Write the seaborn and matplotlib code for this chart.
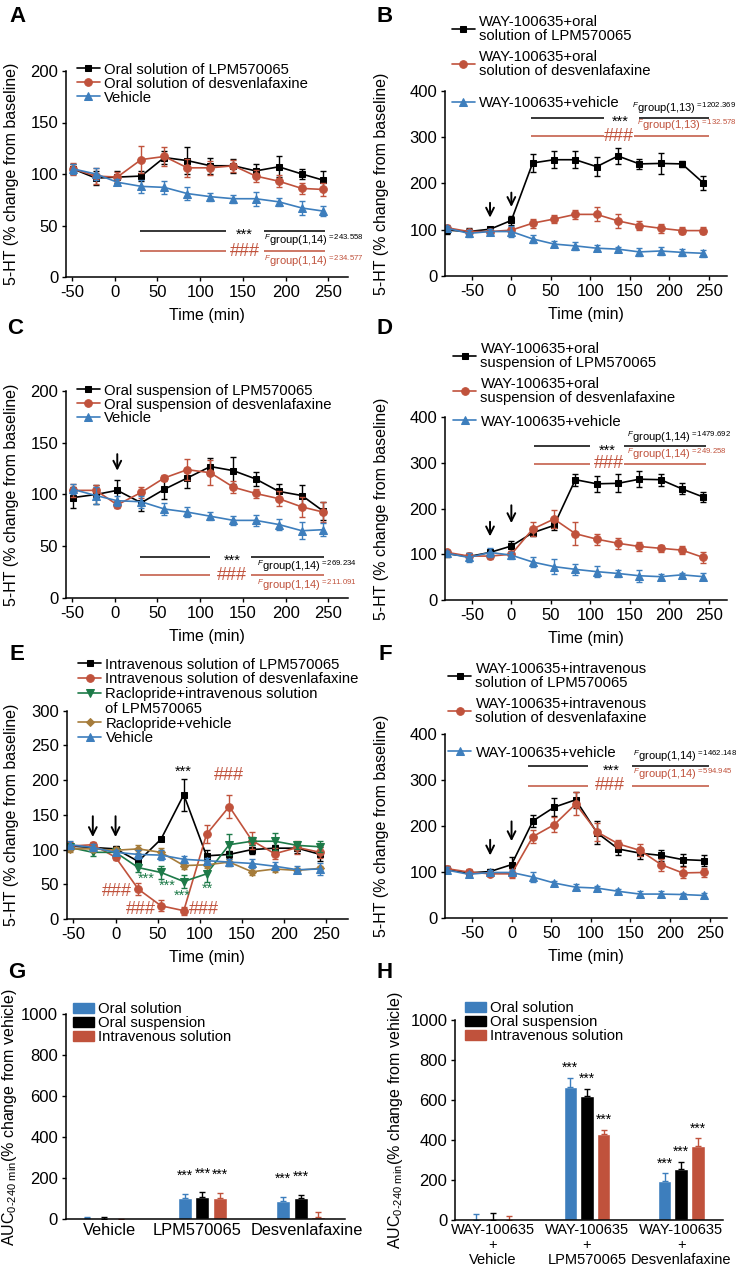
import numpy as np
import pandas as pd
import matplotlib
matplotlib.use("Agg")
import matplotlib.pyplot as plt
import seaborn as sns
from matplotlib.patches import Patch
from matplotlib.legend import Legend

# ---- data ----
a_t = [-49, -22, 3, 31, 58, 85, 112, 139, 165, 192, 219, 244]
a_lpm = [105, 96, 97, 98, 116, 113, 108, 108, 103, 107, 100, 94]
a_lpm_err = [5, 7, 6, 5, 6, 13, 8, 7, 7, 10, 5, 9]
a_des = [105, 98, 97, 114, 117, 106, 106, 108, 98, 93, 86, 85]
a_des_err = [6, 8, 5, 13, 9, 9, 7, 6, 6, 6, 5, 6]
a_veh = [105, 100, 92, 88, 87, 81, 78, 76, 76, 73, 67, 64]
a_veh_err = [5, 6, 3, 6, 6, 6, 4, 4, 7, 4, 7, 5]

b_t = [-81, -54, -27, 0, 27, 54, 81, 108, 135, 162, 189, 216, 243]
b_lpm = [99, 96, 101, 120, 244, 251, 251, 236, 259, 242, 243, 242, 201]
b_lpm_err = [8, 8, 5, 10, 20, 18, 18, 20, 17, 10, 23, 6, 15]
b_des = [104, 96, 96, 99, 114, 123, 133, 133, 119, 109, 103, 98, 98]
b_des_err = [6, 6, 5, 6, 10, 8, 9, 15, 15, 10, 10, 8, 7]
b_veh = [103, 92, 96, 96, 80, 69, 65, 60, 58, 52, 54, 51, 49]
b_veh_err = [6, 7, 6, 12, 8, 6, 8, 7, 5, 8, 8, 7, 8]

c_t = a_t
c_lpm = [97, 100, 104, 92, 105, 116, 127, 123, 115, 103, 99, 84]
c_lpm_err = [10, 9, 10, 8, 9, 10, 8, 13, 7, 7, 10, 9]
c_des = [104, 104, 90, 102, 116, 124, 121, 107, 101, 96, 88, 83]
c_des_err = [6, 5, 3, 5, 3, 10, 12, 6, 4, 7, 10, 10]
c_veh = [105, 99, 94, 93, 86, 83, 79, 75, 75, 71, 65, 66]
c_veh_err = [5, 8, 5, 6, 6, 5, 4, 4, 5, 5, 8, 6]

d_t = b_t
d_lpm = [101, 95, 104, 118, 147, 163, 263, 254, 255, 264, 263, 243, 225]
d_lpm_err = [6, 8, 6, 12, 8, 10, 13, 18, 20, 18, 13, 12, 10]
d_des = [104, 96, 96, 100, 155, 177, 145, 133, 124, 117, 113, 109, 93]
d_des_err = [6, 6, 6, 8, 15, 20, 25, 12, 12, 10, 8, 8, 12]
d_veh = [102, 93, 104, 98, 83, 73, 67, 62, 58, 53, 51, 55, 51]
d_veh_err = [6, 10, 10, 8, 10, 17, 12, 12, 8, 13, 5, 5, 7]

e_t = [-54, -27, 0, 27, 54, 81, 108, 135, 162, 189, 216, 243]
e_lpm = [105, 103, 101, 83, 115, 179, 91, 93, 100, 102, 102, 93]
e_lpm_err = [5, 4, 4, 5, 3, 23, 8, 5, 7, 5, 7, 10]
e_des = [105, 107, 89, 43, 19, 12, 122, 162, 113, 94, 103, 96]
e_des_err = [6, 4, 4, 9, 8, 6, 13, 16, 12, 8, 10, 8]
e_rac_lpm = [103, 96, 96, 74, 67, 54, 65, 107, 112, 112, 106, 104]
e_rac_lpm_err = [4, 5, 4, 6, 9, 9, 12, 15, 6, 12, 5, 8]
e_rac_veh = [101, 101, 99, 101, 96, 77, 78, 82, 68, 72, 70, 73]
e_rac_veh_err = [4, 4, 5, 6, 6, 5, 5, 5, 5, 4, 4, 4]
e_veh = [107, 103, 96, 93, 92, 86, 84, 82, 80, 76, 71, 72]
e_veh_err = [6, 5, 4, 6, 7, 5, 4, 5, 6, 6, 5, 8]

f_t = b_t
f_lpm = [105, 98, 101, 116, 211, 241, 257, 185, 150, 141, 136, 127, 125]
f_lpm_err = [8, 7, 5, 17, 14, 20, 18, 25, 12, 12, 12, 13, 13]
f_des = [107, 100, 96, 96, 177, 203, 248, 187, 161, 147, 116, 98, 99]
f_des_err = [6, 6, 5, 10, 15, 17, 25, 20, 8, 13, 13, 12, 10]
f_veh = [104, 95, 99, 99, 89, 76, 67, 65, 58, 52, 52, 51, 49]
f_veh_err = [6, 5, 5, 5, 10, 5, 7, 4, 4, 7, 7, 4, 6]

formulations = ['Oral solution', 'Oral suspension', 'Intravenous solution']
g_groups = ['Vehicle', 'LPM570065', 'Desvenlafaxine']
g_vals = [[4, 102, 91], [3, 110, 102], [-3, 102, 12]]
g_errs = [[6, 20, 16], [6, 25, 16], [3, 25, 25]]
h_groups = ['WAY-100635\n+\nVehicle', 'WAY-100635\n+\nLPM570065', 'WAY-100635\n+\nDesvenlafaxine']
h_vals = [[0, 667, 197], [0, 618, 257], [0, 428, 370]]
h_errs = [[30, 43, 37], [37, 37, 33], [22, 22, 38]]

# ---- style ----
sns.set_style("ticks")
plt.rcParams['font.family'] = ['Liberation Sans', 'DejaVu Sans']
plt.rcParams['mathtext.fontset'] = 'custom'
plt.rcParams['mathtext.rm'] = 'Liberation Sans'
plt.rcParams['mathtext.it'] = 'Liberation Sans:italic'
plt.rcParams['mathtext.default'] = 'regular'
plt.rcParams['axes.unicode_minus'] = False
for k in ['axes.edgecolor', 'text.color', 'axes.labelcolor', 'xtick.color', 'ytick.color']:
    plt.rcParams[k] = 'black'
plt.rcParams['axes.linewidth'] = 1.1

BLUE = '#3d7ebd'
RED = '#c0523c'
GREEN = '#1d7a48'
BROWN = '#a67c3b'
BLACK = 'black'

W, H = 737, 1277
fig = plt.figure(figsize=(W / 100, H / 100), dpi=100)


def add_ax(l, r, t, b):
    ax = fig.add_axes([l / W, 1 - b / H, (r - l) / W, (b - t) / H])
    ax.px = (l, r, t, b)
    return ax


def line_panel(ax, t, series):
    handles = []
    for vals, errs, color, marker, ms in series:
        sns.lineplot(x=t, y=vals, ax=ax, color=color, marker=marker, markersize=ms,
                     markeredgecolor=color, linewidth=1.2, errorbar=None, legend=False)
        handles.append(ax.lines[-1])
        ax.errorbar(t, vals, yerr=errs, fmt='none', ecolor=color, elinewidth=1.0,
                    capsize=2.2, capthick=1.0)
    return handles


def style(ax, xlim, ylim, yticks, xticks=None):
    ax.set_xlim(*xlim)
    ax.set_ylim(*ylim)
    ax.set_yticks(yticks)
    if xticks is not None:
        ax.set_xticks(xticks)
    sns.despine(ax=ax)
    ax.tick_params(labelsize=12, length=3, width=1, pad=2.5)


def labels(ax, ylabel, ylab_px, xlabel=True):
    l, r, t, b = ax.px
    ax.set_ylabel(ylabel, fontsize=11.5)
    ax.yaxis.set_label_coords((ylab_px - l) / (r - l), 0.5)
    if xlabel:
        ax.set_xlabel('Time (min)', fontsize=11.5)
        ax.xaxis.set_label_coords(0.5, -31 / (b - t))


def legend_at(ax, handles, labs, x, y, spacing=0.0, fs=10.7, hl=1.55):
    leg = Legend(ax, handles, labs, loc='center left', bbox_to_anchor=(x / W, 1 - y / H),
                 bbox_transform=fig.transFigure, frameon=False, fontsize=fs,
                 handlelength=hl, handletextpad=0.3, labelspacing=spacing,
                 borderpad=0, borderaxespad=0)
    for txt in leg.get_texts():
        txt.set_linespacing(1.05)
    ax.add_artist(leg)
    return leg


def sig(ax, y, segs, color, sym, symx):
    for x0, x1 in segs:
        ax.hlines(y, x0, x1, color=color, lw=1.1)
    if sym == '***':
        ax.annotate(sym, (symx, y), xytext=(0, -3), textcoords='offset points',
                    ha='center', va='center', fontsize=10.5, color=color)
    else:
        ax.text(symx, y, sym, ha='center', va='center', fontsize=13, color=color)


def ftext(ax, x, y, df, val, color):
    ax.text(x, y, r'$^{\mathit{F}}$group(' + df + ')$^{=' + val + '}$',
            ha='left', va='center', fontsize=8, color=color)


def arrow(ax, x, y0, y1):
    ax.annotate('', xy=(x, y1), xytext=(x, y0),
                arrowprops=dict(arrowstyle='->', color='black', lw=1.4,
                                shrinkA=0, shrinkB=0, mutation_scale=14))


ylab_ht = '5-HT (% change from baseline)'
xt = [-50, 0, 50, 100, 150, 200, 250]

# ---- A ----
axA = add_ax(66, 348, 71, 277)
hA = line_panel(axA, a_t, [(a_lpm, a_lpm_err, BLACK, 's', 5),
                           (a_des, a_des_err, RED, 'o', 5.5),
                           (a_veh, a_veh_err, BLUE, '^', 5.5)])
style(axA, (-57, 273), (0, 200), [0, 50, 100, 150, 200], xt)
labels(axA, ylab_ht, 19)
legend_at(axA, hA, ['Oral solution of LPM570065', 'Oral solution of desvenlafaxine', 'Vehicle'],
          76.7, 83.5)
sig(axA, 45, [(30, 130), (175, 246)], BLACK, '***', 152)
sig(axA, 25, [(30, 130), (175, 246)], RED, '###', 152)
ftext(axA, 175, 35.5, '1,14', '243.558', BLACK)
ftext(axA, 175, 15.5, '1,14', '234.577', RED)

# ---- B ----
axB = add_ax(445, 727, 90.7, 276)
hB = line_panel(axB, b_t, [(b_lpm, b_lpm_err, BLACK, 's', 5),
                           (b_des, b_des_err, RED, 'o', 5.5),
                           (b_veh, b_veh_err, BLUE, '^', 5.5)])
style(axB, (-84, 273), (0, 400), [0, 100, 200, 300, 400], xt)
labels(axB, ylab_ht, 389)
legend_at(axB, hB[:2], ['WAY-100635+oral\nsolution of LPM570065',
                        'WAY-100635+oral\nsolution of desvenlafaxine'], 451.7, 46.5, spacing=0.45)
legend_at(axB, hB[2:], ['WAY-100635+vehicle'], 451.7, 103.3)
sig(axB, 342, [(25, 117), (161, 250)], BLACK, '***', 138)
sig(axB, 302, [(25, 117), (155, 250)], RED, '###', 136)
ftext(axB, 153, 363, '1,13', '1202.369', BLACK)
ftext(axB, 159, 325, '1,13', '132.578', RED)
arrow(axB, -27, 158, 126)
arrow(axB, 0, 180, 149)

# ---- C ----
axC = add_ax(66, 348, 391, 598)
hC = line_panel(axC, c_t, [(c_lpm, c_lpm_err, BLACK, 's', 5),
                           (c_des, c_des_err, RED, 'o', 5.5),
                           (c_veh, c_veh_err, BLUE, '^', 5.5)])
style(axC, (-57, 273), (0, 200), [0, 50, 100, 150, 200], xt)
labels(axC, ylab_ht, 19)
legend_at(axC, hC, ['Oral suspension of LPM570065', 'Oral suspension of desvenlafaxine', 'Vehicle'],
          76.7, 404.5)
sig(axC, 40, [(30, 111), (160, 245)], BLACK, '***', 138)
sig(axC, 22, [(30, 111), (160, 245)], RED, '###', 137)
ftext(axC, 166, 31, '1,14', '269.234', BLACK)
ftext(axC, 166, 12, '1,14', '211.091', RED)
arrow(axC, 3, 139, 123)

# ---- D ----
axD = add_ax(445, 727, 417, 600)
hD = line_panel(axD, d_t, [(d_lpm, d_lpm_err, BLACK, 's', 5),
                           (d_des, d_des_err, RED, 'o', 5.5),
                           (d_veh, d_veh_err, BLUE, '^', 5.5)])
style(axD, (-84, 273), (0, 400), [0, 100, 200, 300, 400], xt)
labels(axD, ylab_ht, 389)
legend_at(axD, hD[:2], ['WAY-100635+oral\nsuspension of LPM570065',
                        'WAY-100635+oral\nsuspension of desvenlafaxine'], 453, 373.5, spacing=0.45)
legend_at(axD, hD[2:], ['WAY-100635+vehicle'], 453, 421.7)
sig(axD, 336, [(29, 99), (143, 246)], BLACK, '***', 121)
sig(axD, 298, [(29, 99), (143, 246)], RED, '###', 123)
ftext(axD, 146, 357, '1,14', '1479.692', BLACK)
ftext(axD, 146, 320, '1,14', '249.258', RED)
arrow(axD, -27, 171, 139)
arrow(axD, 0, 207, 168)

# ---- E ----
axE = add_ax(66.7, 348, 710.7, 919)
hE = line_panel(axE, e_t, [(e_lpm, e_lpm_err, BLACK, 's', 5),
                           (e_des, e_des_err, RED, 'o', 5.5),
                           (e_rac_lpm, e_rac_lpm_err, GREEN, 'v', 5.5),
                           (e_rac_veh, e_rac_veh_err, BROWN, 'D', 4),
                           (e_veh, e_veh_err, BLUE, '^', 5.5)])
style(axE, (-58, 276), (0, 300), [0, 50, 100, 150, 200, 250, 300], xt)
labels(axE, ylab_ht, 19)
blank = plt.Line2D([], [], color='none')
legend_at(axE, [hE[0], hE[1], hE[2], blank, hE[3], hE[4]],
          ['Intravenous solution of LPM570065', 'Intravenous solution of desvenlafaxine',
           'Raclopride+intravenous solution', 'of LPM570065', 'Raclopride+vehicle', 'Vehicle'],
          78, 701.5, spacing=0.05)
axE.annotate('***', (80, 212), ha='center', va='center', fontsize=10.5)
axE.text(135, 206, '###', ha='center', va='center', fontsize=13, color=RED)
for x, y, s in [(36, 58, '***'), (61.5, 48.5, '***'), (79, 34, '***'), (109, 44, '**')]:
    axE.text(x, y, s, ha='center', va='center', fontsize=10.5, color=GREEN)
for x, y in [(2, 40), (30, 13), (105, 13)]:
    axE.text(x, y, '###', ha='center', va='center', fontsize=13, color=RED)
arrow(axE, -27, 148, 118)
arrow(axE, 0, 148, 118)

# ---- F ----
axF = add_ax(445, 727, 734, 918)
hF = line_panel(axF, f_t, [(f_lpm, f_lpm_err, BLACK, 's', 5),
                           (f_des, f_des_err, RED, 'o', 5.5),
                           (f_veh, f_veh_err, BLUE, '^', 5.5)])
style(axF, (-84, 272), (0, 400), [0, 100, 200, 300, 400], xt)
labels(axF, ylab_ht, 389)
legend_at(axF, hF[:2], ['WAY-100635+intravenous\nsolution of LPM570065',
                        'WAY-100635+intravenous\nsolution of desvenlafaxine'], 448, 693.5, spacing=0.45)
legend_at(axF, hF[2:], ['WAY-100635+vehicle'], 448, 752.7)
sig(axF, 330, [(21, 96), (152, 249)], BLACK, '***', 126)
sig(axF, 288, [(21, 96), (152, 249)], RED, '###', 124)
ftext(axF, 153, 352, '1,14', '1462.148', BLACK)
ftext(axF, 153, 312, '1,14', '594.945', RED)
arrow(axF, -27, 170, 136)
arrow(axF, 0, 210, 167)

# ---- G / H bars ----
bar_colors = [BLUE, BLACK, RED]
BW = 0.53


def bar_panel(ax, groups, vals, errs, stars, star_off, tick_fs, xlim):
    rows = []
    for form, v in zip(formulations, vals):
        for g, x in zip(groups, v):
            rows.append((g, form, x))
    df = pd.DataFrame(rows, columns=['group', 'form', 'value'])
    sns.barplot(data=df, x='group', y='value', hue='form', order=groups, hue_order=formulations,
                palette=bar_colors, width=BW, gap=0.19, saturation=1, errorbar=None,
                legend=False, ax=ax)
    for j, (v, e, c) in enumerate(zip(vals, errs, bar_colors)):
        xs = np.arange(len(groups)) + (j - 1) * BW / 3
        ax.errorbar(xs, v, yerr=[np.zeros(len(v)), e], fmt='none', ecolor=c,
                    elinewidth=1.0, capsize=2.2, capthick=1.0)
    for gi, j in stars:
        x = gi + (j - 1) * BW / 3
        ax.annotate('***', (x, vals[j][gi] + errs[j][gi]), xytext=(0, star_off),
                    textcoords='offset points', ha='center', va='bottom', fontsize=10)
    ax.set_xlim(*xlim)
    ax.set_ylim(0, 1000)
    ax.set_yticks([0, 200, 400, 600, 800, 1000])
    sns.despine(ax=ax)
    ax.tick_params(labelsize=12, length=3, width=1, pad=2.5)
    ax.tick_params(axis='x', length=0, labelsize=tick_fs)
    ax.set_xlabel('')
    return [Patch(color=c) for c in bar_colors]


auc_label = r'AUC$_{0\text{-}240\ min}$(% change from vehicle)'

axG = add_ax(65.7, 345, 1014, 1219.3)
hG = bar_panel(axG, g_groups, g_vals, g_errs, [(1, 0), (1, 1), (1, 2), (2, 0), (2, 1)], 8,
               11.8, (-0.39, 2.45))
# tick labels sit slightly off the group centres in the original
axG.set_xticks([0.06, 0.95, 2.06], g_groups)
axG.set_ylabel(auc_label, fontsize=11.5)
axG.yaxis.set_label_coords((19 - 65.7) / (345 - 65.7), 0.5)
legend_at(axG, hG, formulations, 72.7, 1023, spacing=0.0, hl=1.4)

axH = add_ax(455, 722.7, 1020, 1220)
hH = bar_panel(axH, h_groups, h_vals, h_errs, [(1, 0), (1, 1), (1, 2), (2, 0), (2, 1), (2, 2)], 2,
               10.5, (-0.40, 2.44))
for lab in axH.get_xticklabels():
    lab.set_linespacing(1.05)
axH.set_ylabel(auc_label, fontsize=11.5)
axH.yaxis.set_label_coords((405 - 455) / (722.7 - 455), 0.5)
legend_at(axH, hH, formulations, 465, 1022, spacing=0.0, hl=1.4)

# ---- panel letters ----
for s, x, y in [('A', 17, 17), ('B', 385, 17), ('C', 15, 328), ('D', 385, 328),
                ('E', 17, 655), ('F', 385, 655), ('G', 17, 973), ('H', 385, 973)]:
    fig.text(x / W, 1 - y / H, s, fontsize=16, fontweight='bold', ha='center', va='center')

fig.savefig('out.png', dpi=100)
